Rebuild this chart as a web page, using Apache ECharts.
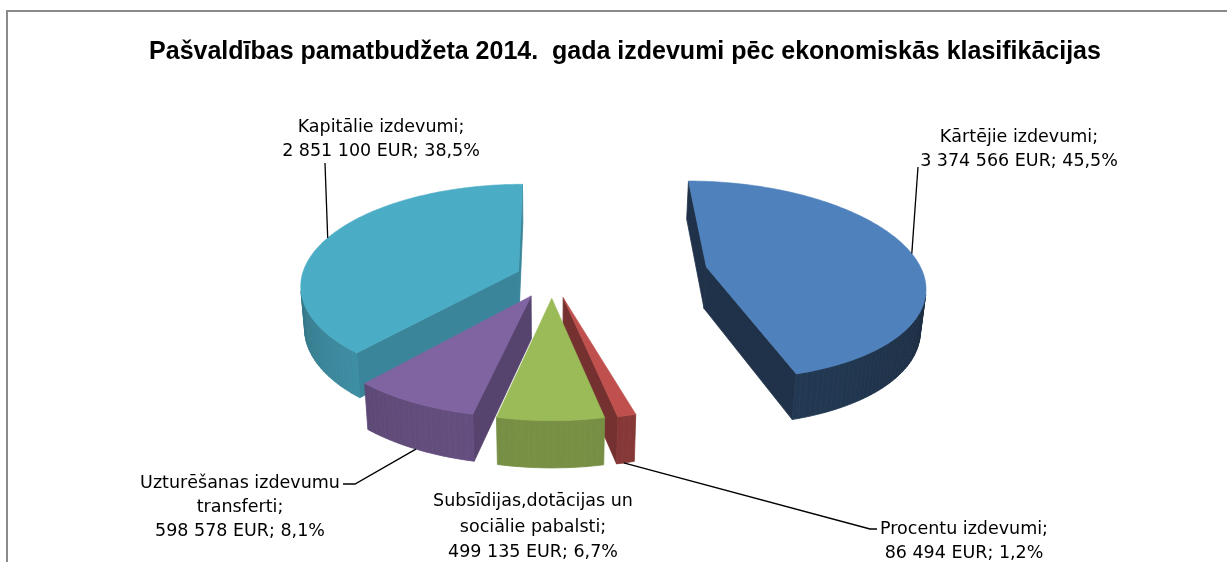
<!DOCTYPE html>
<html><head><meta charset="utf-8">
<script src="https://cdn.jsdelivr.net/npm/echarts@6/dist/echarts.min.js"></script>
<style>html,body{margin:0;padding:0;background:#fff}#c{width:1227px;height:562px}</style>
</head><body><div id="c"></div>
<script>
// ---------- data ----------
const titleText = 'Pašvaldības pamatbudžeta 2014.  gada izdevumi pēc ekonomiskās klasifikācijas';
const categories = [
  'Kārtējie izdevumi',
  'Procentu izdevumi',
  'Subsīdijas,dotācijas un\nsociālie pabalsti',
  'Uzturēšanas izdevumu\ntransferti',
  'Kapitālie izdevumi'
];
const values = [3374566, 86494, 499135, 598578, 2851100];
const currency = 'EUR';

// ---------- styling ----------
const topColors = ['#4F81BD', '#C0504D', '#9BBB59', '#8064A2', '#4BACC6'];
const wallShade = [0.42, 0.66, 0.72, 0.74, 0.84];
const explode = [158, 45, 45, 45, 36];
const view = { cx: 552, cy: 277, r: 217, h: 48, dist: 1450, tilt: 27.4 };
const labelLayout = [
  { x: 1019, y: 125, lh: 24, path: [[918, 167]], anchor: 0.5, w: 0 },
  { x: 964, y: 518, lh: 23.5, path: [[877, 529], [870, 529]], anchor: 0.6, w: -1 },
  { x: 533, y: 489, lh: 25.5, path: null },
  { x: 240, y: 471, lh: 24, path: [[343, 484], [355, 484]], anchor: 0.5, w: -1 },
  { x: 381, y: 115, lh: 24, path: [[325, 163]], anchor: 0.5, w: 0 }
];

const SUM = values.reduce((a, b) => a + b, 0);
const fmt = n => String(n).replace(/\B(?=(\d{3})+(?!\d))/g, ' ');
const pct = n => (n / SUM * 100).toFixed(1).replace('.', ',');

const DEG = Math.PI / 180;
const SA = Math.sin(view.tilt * DEG), CA = Math.cos(view.tilt * DEG);
const cam = [0, view.dist * CA];
function proj(u, v, w) {
  const yc = v * SA - w * CA, zc = v * CA + w * SA, s = view.dist / (view.dist - zc);
  return [view.cx + u * s, view.cy + yc * s];
}
function shade(hex, f) {
  const n = parseInt(hex.slice(1), 16);
  const c = [(n >> 16) & 255, (n >> 8) & 255, n & 255].map(x => Math.max(0, Math.min(255, Math.round(x * f))));
  return 'rgb(' + c.join(',') + ')';
}

// slice geometry from data
const geom = [];
let acc = 0;
values.forEach((v, i) => {
  const a0 = acc / SUM * 360; acc += v; const a1 = acc / SUM * 360;
  const mid = (a0 + a1) / 2;
  const ox = explode[i] * Math.sin(mid * DEG), oy = -explode[i] * Math.cos(mid * DEG);
  const depth = oy - 0.5 * view.r * Math.cos(mid * DEG);
  geom.push({ a0, a1, mid, ox, oy, depth });
});
const order = geom.map((g, i) => i).sort((p, q) => geom[p].depth - geom[q].depth);
const rank = []; order.forEach((idx, r) => rank[idx] = r);

function renderItem(params, api) {
  const i = params.dataIndex;
  const g = geom[i];
  const H = view.h, R = view.r;
  const col = topColors[i];
  const base = rank[i] * 10;
  const children = [];
  const rimP = (th, w) => proj(g.ox + R * Math.sin(th * DEG), g.oy - R * Math.cos(th * DEG), w);
  const apex = w => proj(g.ox, g.oy, w);
  const vis = (px, py, nx, ny) => (cam[0] - px) * nx + (cam[1] - py) * ny > 0;
  const poly = (pts, fill, z) => ({ type: 'polygon', shape: { points: pts }, style: { fill, stroke: fill, lineWidth: 0.8 }, z2: base + z });
  // radial faces
  [[g.a0, g.a0 - 90], [g.a1, g.a1 + 90]].forEach(([th, nth]) => {
    const nx = Math.sin(nth * DEG), ny = -Math.cos(nth * DEG);
    const px = g.ox + 0.5 * R * Math.sin(th * DEG), py = g.oy - 0.5 * R * Math.cos(th * DEG);
    if (vis(px, py, nx, ny)) {
      children.push(poly([apex(0), rimP(th, 0), rimP(th, -H), apex(-H)], shade(col, wallShade[i] * 0.92), 1));
    }
  });
  // rim wall
  const steps = Math.max(3, Math.ceil((g.a1 - g.a0) / 1.5));
  for (let j = 0; j < steps; j++) {
    const t0 = g.a0 + (g.a1 - g.a0) * j / steps, t1 = g.a0 + (g.a1 - g.a0) * (j + 1) / steps;
    const tm = (t0 + t1) / 2;
    const nx = Math.sin(tm * DEG), ny = -Math.cos(tm * DEG);
    const px = g.ox + R * nx, py = g.oy + R * ny;
    if (!vis(px, py, nx, ny)) continue;
    const dx = cam[0] - px, dy = cam[1] - py, dw = view.dist * SA + H / 2;
    const f = (dx * nx + dy * ny) / Math.hypot(dx, dy, dw);
    children.push(poly([rimP(t0, 0), rimP(t1, 0), rimP(t1, -H), rimP(t0, -H)], shade(col, wallShade[i] * (0.82 + 0.3 * f)), 2));
  }
  // top face
  const top = [apex(0)];
  const ts = Math.max(4, Math.ceil((g.a1 - g.a0) / 1));
  for (let j = 0; j <= ts; j++) top.push(rimP(g.a0 + (g.a1 - g.a0) * j / ts, 0));
  children.push({ type: 'polygon', shape: { points: top }, style: { fill: col, stroke: col, lineWidth: 0.6 }, z2: base + 5 });
  // label
  const L = labelLayout[i];
  const val = api.value(0);
  children.push({
    type: 'text', x: L.x, y: L.y, z2: 1000,
    style: {
      text: categories[i] + ';\n' + fmt(val) + ' ' + currency + '; ' + pct(val) + '%',
      fill: '#000', fontSize: 17.5, fontFamily: '"DejaVu Sans", sans-serif',
      align: 'center', verticalAlign: 'top', lineHeight: L.lh
    }
  });
  if (L.path) {
    const th = g.a0 + (g.a1 - g.a0) * L.anchor;
    const end = rimP(th, L.w ? -H : 0);
    children.push({ type: 'polyline', shape: { points: L.path.concat([end]) }, style: { stroke: '#000', lineWidth: 1.3, fill: null }, z2: 999 });
  }
  return { type: 'group', children };
}

const chart = echarts.init(document.getElementById('c'));
chart.setOption({
  backgroundColor: '#fff',
  animation: false,
  graphic: [
    { type: 'rect', shape: { x: 7, y: 11, width: 1260, height: 620 }, style: { fill: null, stroke: '#8a8a8a', lineWidth: 2 }, silent: true },
    { type: 'text', x: 625, y: 52, style: { text: titleText, fill: '#000', fontSize: 25, fontWeight: 'bold', fontFamily: '"Liberation Sans", Arial, sans-serif', align: 'center', verticalAlign: 'middle' } }
  ],
  series: [{
    type: 'custom',
    coordinateSystem: 'none',
    renderItem,
    data: values.map((v, i) => ({ name: categories[i], value: v }))
  }]
});
</script></body></html>
